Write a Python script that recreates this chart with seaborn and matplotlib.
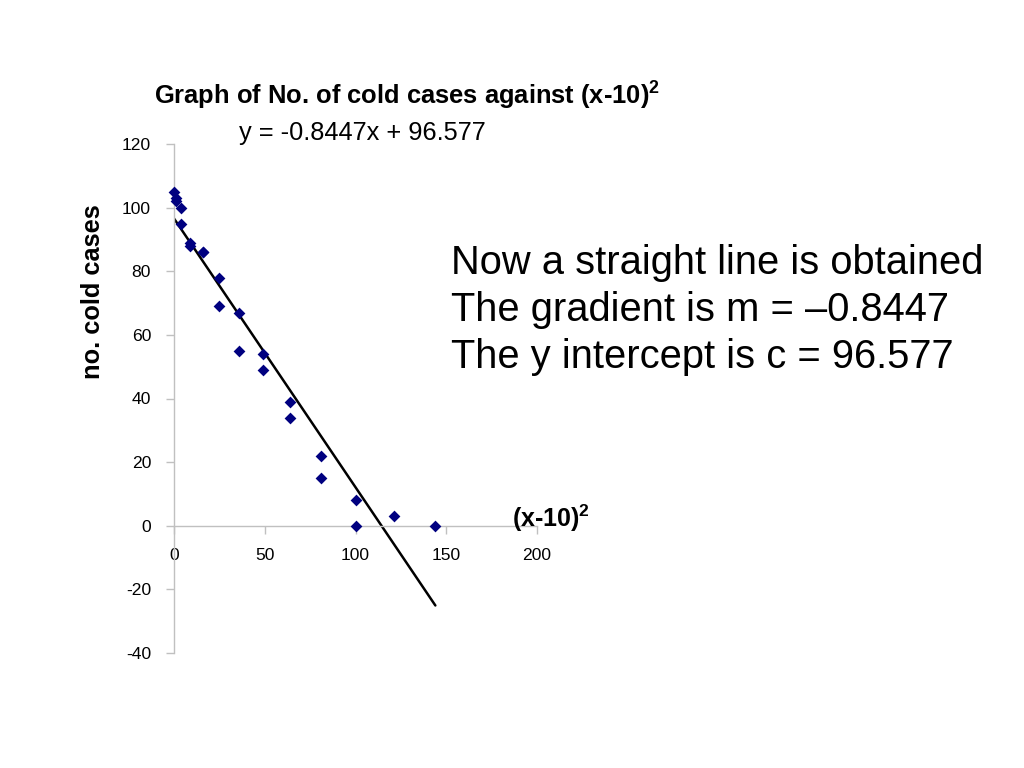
import numpy as np
import pandas as pd
import matplotlib
matplotlib.use("Agg")
import matplotlib.pyplot as plt
import seaborn as sns

# Data
x_sq = [0, 1, 1, 4, 4, 9, 9, 16, 16, 25, 25, 36, 36, 49, 49, 64, 64, 81, 81, 100, 100, 121, 144]
cases = [105, 103, 102, 100, 95, 89, 88, 86, 86, 78, 69, 67, 55, 54, 49, 39, 34, 22, 15, 8, 0, 3, 0]
slope = -0.8447
intercept = 96.577
x_ticks = [0, 50, 100, 150, 200]
y_ticks = [-40, -20, 0, 20, 40, 60, 80, 100, 120]

sns.set_theme(style="white")
plt.rcParams['font.family'] = ['Liberation Sans', 'DejaVu Sans']
plt.rcParams['text.color'] = 'black'
plt.rcParams['mathtext.fontset'] = 'custom'
plt.rcParams['mathtext.rm'] = 'Liberation Sans'
plt.rcParams['mathtext.bf'] = 'Liberation Sans:bold'

fig = plt.figure(figsize=(10.24, 7.68), dpi=100)
ax = fig.add_axes([174/1024, 1 - 653/768, (537 - 174)/1024, (653 - 144)/768])

df = pd.DataFrame({"x": x_sq, "y": cases})
sns.scatterplot(data=df, x="x", y="y", marker="D", s=36, color="#000080",
                edgecolor="#000080", linewidth=0, ax=ax, zorder=3, clip_on=False)

line_x = np.array([min(x_sq), max(x_sq)])
line_df = pd.DataFrame({"x": line_x, "y": slope * line_x + intercept})
sns.lineplot(data=line_df, x="x", y="y", color="black", linewidth=1.8, ax=ax, zorder=2)

ax.set_xlim(0, 200)
ax.set_ylim(-40, 120)
ax.set_xticks(x_ticks)
ax.set_yticks(y_ticks)
ax.set_xticklabels([str(t) for t in x_ticks])
ax.set_yticklabels([str(t) for t in y_ticks])

for s in ["top", "right"]:
    ax.spines[s].set_visible(False)
ax.spines["bottom"].set_position(("data", 0))
ax.spines["left"].set_color("#c0c0c0")
ax.spines["bottom"].set_color("#c0c0c0")
ax.spines["left"].set_linewidth(1.0)
ax.spines["bottom"].set_linewidth(1.0)

ax.tick_params(axis="y", direction="out", length=6, width=1, color="#c0c0c0",
               labelsize=12.6, labelcolor="black", pad=10.5, left=True)
ax.tick_params(axis="x", direction="out", length=6, width=1, color="#c0c0c0",
               labelsize=12.6, labelcolor="black", pad=10, bottom=True)

ax.set_xlabel("")
ax.set_ylabel("")

fig.text(407/1024, 1 - 95/768, "Graph of No. of cold cases against (x-10)$^\\mathbf{2}$",
         ha="center", va="center", fontsize=18.4, fontweight="bold", color="black")
fig.text(362/1024, 1 - 133/768, "y = -0.8447x + 96.577",
         ha="center", va="center", fontsize=18.3, color="black")
fig.text(93/1024, 1 - 292/768, "no. cold cases", rotation=90,
         ha="center", va="center", fontsize=18.3, fontweight="bold", color="black")
fig.text(551/1024, 1 - 518/768, "(x-10)$^\\mathbf{2}$",
         ha="center", va="center", fontsize=18, fontweight="bold", color="black")

right_lines = ["Now a straight line is obtained",
               "The gradient is m = \u20130.8447",
               "The y intercept is c = 96.577"]
for i, t in enumerate(right_lines):
    fig.text(451/1024, 1 - (263 + 47 * i)/768, t, ha="left", va="center",
             fontsize=28.7, color="black")

fig.savefig("out.png", dpi=100)
